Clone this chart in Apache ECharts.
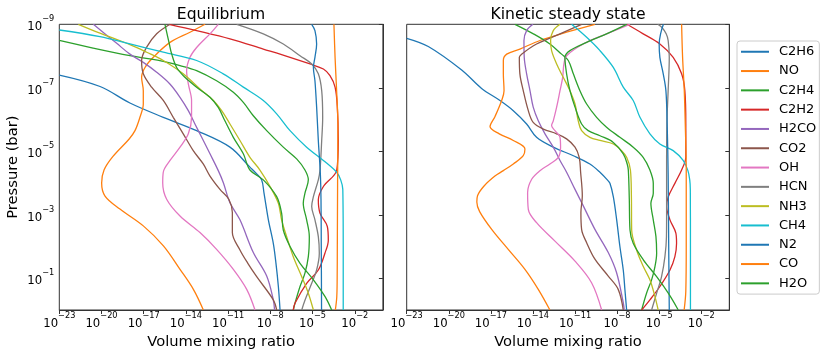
<!DOCTYPE html>
<html>
<head>
<meta charset="utf-8">
<script src="https://cdn.jsdelivr.net/npm/echarts@6/dist/echarts.min.js"></script>
<style>
  html, body { margin: 0; padding: 0; background: #fff; }
  #chart { width: 830px; height: 356px; }
</style>
</head>
<body>
<div id="chart"></div>
<script>
// species, in legend order
const speciesNames = ["C2H6", "NO", "C2H4", "C2H2", "H2CO", "CO2", "OH", "HCN", "NH3", "CH4", "N2", "CO", "H2O"];
const speciesColors = ["#1f77b4", "#ff7f0e", "#2ca02c", "#d62728", "#9467bd", "#8c564b", "#e377c2",
  "#7f7f7f", "#bcbd22", "#17becf", "#1f77b4", "#ff7f0e", "#2ca02c"];

// tick positions (log10 values)
const xTickExps = [-23, -20, -17, -14, -11, -8, -5, -2];
const yTickExps = [-9, -7, -5, -3, -1];

// profiles as [log10 pressure (bar), log10 volume mixing ratio]
// --- Equilibrium ---
const eqC2H6 = [[-7.4,-23],[-7.04,-20.1],[-6.52,-17.98],[-6.07,-15.61],[-5.65,-13.24],[-5.13,-10.87],[-4.5,-9.45],[-4.3,-9.0],[-4.1,-8.62],[-3.68,-8.45],[-2.84,-8.14],[-2.1,-7.79],[-1.47,-7.6],[-0.74,-7.43],[0,-7.31]];
const eqNO = [[-9,-12.64],[-8.75,-13.71],[-8.43,-15.13],[-7.96,-16.32],[-7.64,-16.91],[-7.33,-17.15],[-6.91,-17.03],[-6.49,-17.03],[-6.07,-17.27],[-5.65,-17.62],[-5.38,-18.05],[-4.83,-19.2],[-4.41,-19.82],[-4.0,-19.99],[-3.59,-19.75],[-3.18,-18.69],[-2.65,-17.03],[-2.02,-15.6],[-1.28,-14.42],[-0.65,-13.47],[0,-12.76]];
const eqC2H4 = [[-8.49,-23],[-8.25,-20.6],[-8.01,-17.98],[-7.91,-16.56],[-7.83,-15.61],[-7.7,-14.42],[-7.54,-13.24],[-7.22,-11.82],[-6.86,-10.63],[-6.54,-9.92],[-6.12,-9.21],[-5.65,-8.26],[-5.13,-7.08],[-4.76,-6.13],[-4.41,-5.54],[-4.1,-5.3],[-3.68,-5.54],[-3.36,-5.66],[-2.84,-5.42],[-2.31,-5.23],[-1.68,-5.3],[-1.16,-5.54],[-0.74,-5.89],[-0.21,-6.25],[0,-6.37]];
const eqC2H2 = [[-9,-15.2],[-8.8,-13.24],[-8.54,-10.87],[-8.22,-8.5],[-7.96,-6.6],[-7.75,-5.18],[-7.59,-4.23],[-7.38,-3.76],[-7.02,-3.4],[-6.39,-3.24],[-5.34,-3.17],[-4.41,-3.28],[-3.89,-4.23],[-3.47,-4.59],[-3.05,-4.47],[-2.63,-3.95],[-2.2,-3.88],[-1.79,-4.12],[-1.26,-4.59],[-0.84,-5.42],[-0.21,-6.25],[0,-6.37]];
const eqH2CO = [[-9,-20.58],[-8.4,-18.92],[-8.06,-17.98],[-7.8,-17.03],[-7.49,-16.08],[-7.12,-15.14],[-6.7,-14.42],[-6.28,-13.83],[-5.86,-13.36],[-5.44,-12.88],[-4.92,-12.29],[-4.39,-11.7],[-4.01,-11.34],[-3.38,-10.87],[-2.84,-10.16],[-1.81,-9.21],[-1.07,-8.26],[-0.32,-7.79],[0,-7.7]];
const eqCO2 = [[-9,-15.13],[-8.7,-16.08],[-8.28,-16.79],[-7.86,-17.15],[-7.44,-17.03],[-7.02,-16.44],[-6.6,-15.61],[-6.07,-14.9],[-5.55,-14.19],[-5.02,-13.48],[-4.6,-12.77],[-4.22,-12.29],[-3.8,-11.58],[-3.49,-10.95],[-3.07,-10.7],[-2.44,-10.7],[-1.89,-10.16],[-1.47,-9.6],[-1.05,-8.97],[-0.32,-7.79],[0,-7.55]];
const eqOH = [[-9,-11.7],[-8.7,-12.29],[-8.27,-13.24],[-7.96,-13.71],[-7.54,-13.95],[-7.12,-13.83],[-6.6,-13.6],[-6.07,-13.6],[-5.55,-13.83],[-5.13,-14.42],[-4.71,-15.13],[-4.34,-15.61],[-4.0,-15.65],[-3.49,-15.37],[-2.96,-14.42],[-2.44,-13.0],[-1.91,-11.82],[-1.28,-10.63],[-0.65,-9.68],[0,-9.09]];
const eqHCN = [[-9,-10.39],[-8.7,-8.5],[-8.38,-7.08],[-8.01,-5.89],[-7.75,-5.06],[-7.44,-4.59],[-6.91,-4.35],[-6.07,-4.28],[-5.34,-4.35],[-4.41,-4.47],[-4.1,-4.59],[-3.57,-4.94],[-3.26,-5.06],[-2.84,-4.83],[-2.31,-4.59],[-1.79,-4.52],[-1.26,-4.71],[-0.84,-5.06],[-0.31,-5.54],[0,-5.77]];
const eqNH3 = [[-9,-21.65],[-8.72,-20.11],[-8.36,-17.98],[-8.12,-16.79],[-7.86,-15.61],[-7.44,-14.19],[-6.96,-13.0],[-6.6,-12.05],[-6.28,-11.46],[-5.86,-10.87],[-5.34,-10.16],[-4.81,-9.45],[-4.41,-8.74],[-3.89,-8.02],[-3.36,-7.43],[-2.84,-7.2],[-2.31,-6.84],[-1.68,-6.37],[-1.05,-5.77],[-0.53,-5.3],[0,-4.94]];
const eqCH4 = [[-8.82,-23],[-8.61,-20.11],[-8.38,-17.98],[-8.12,-15.61],[-7.86,-13.24],[-7.44,-11.35],[-7.02,-9.92],[-6.6,-8.5],[-6.18,-7.55],[-5.65,-6.6],[-5.13,-5.42],[-4.71,-4.23],[-4.34,-3.29],[-4.1,-3.0],[-3.8,-2.85],[-2,-2.82],[0,-2.82]];
const eqN2 = [[-9,-5.06],[-8.8,-4.83],[-8.38,-4.71],[-7.96,-4.83],[-7.64,-4.94],[-7.22,-4.83],[-6.39,-4.71],[-5.34,-4.59],[-4.34,-4.45],[-3.5,-4.4],[-2,-4.38],[0,-4.36]];
const eqCO = [[-9,-3.48],[-7.96,-3.4],[-6.91,-3.29],[-5.86,-3.2],[-4,-3.22],[-2,-3.24],[-1,-3.25],[-0.4,-3.28],[0,-3.38]];
const eqH2O = [[-9,-15.49],[-8.38,-15.18],[-8.06,-15.01],[-7.64,-14.66],[-7.33,-14.07],[-7.02,-13.24],[-6.7,-12.29],[-6.38,-11.7],[-5.96,-11.23],[-5.44,-10.63],[-4.92,-9.92],[-4.41,-9.45],[-4.1,-8.5],[-3.57,-7.55],[-3.05,-7.2],[-2.52,-7.08],[-2.0,-6.6],[-1.47,-5.89],[-0.95,-4.94],[-0.42,-4.11],[0,-3.64]];

// --- Kinetic steady state ---
const kiC2H6 = [[-8.56,-23],[-8.3,-21.46],[-7.56,-19.08],[-6.98,-17.66],[-6.6,-16.35],[-6.28,-15.4],[-5.86,-14.45],[-5.44,-13.74],[-5.13,-12.55],[-4.86,-11.12],[-4.6,-9.94],[-4.34,-9.22],[-4.1,-8.7],[-3.99,-8.51],[-3.57,-8.27],[-2.84,-8.03],[-2.0,-7.8],[-1.26,-7.56],[-0.63,-7.44],[0,-7.32]];
const kiNO = [[-9,-9.58],[-8.75,-11.6],[-8.49,-13.5],[-8.22,-14.93],[-8.06,-15.87],[-7.86,-16.11],[-7.44,-16.11],[-6.91,-16.06],[-6.6,-16.23],[-6.09,-16.71],[-5.78,-17.06],[-5.55,-16.4],[-5.34,-15.4],[-5.07,-14.57],[-4.86,-14.69],[-4.6,-15.4],[-4.39,-16.11],[-4.22,-16.71],[-3.9,-17.5],[-3.6,-17.95],[-3.4,-18.0],[-3.1,-17.8],[-2.54,-16.94],[-1.91,-15.76],[-1.28,-14.57],[-0.65,-13.62],[0,-12.79]];
const kiC2H4 = [[-9,-15.28],[-8.7,-13.97],[-8.38,-12.79],[-8.06,-11.96],[-7.86,-11.48],[-7.44,-11.12],[-6.91,-10.65],[-6.49,-10.17],[-6.07,-9.46],[-5.76,-8.75],[-5.44,-7.8],[-5.13,-6.85],[-4.81,-6.14],[-4.41,-5.66],[-3.99,-5.42],[-3.68,-5.42],[-3.36,-5.59],[-2.84,-5.42],[-2.31,-5.23],[-1.79,-5.18],[-1.37,-5.3],[-0.95,-5.54],[-0.53,-5.9],[0,-6.25]];
const kiC2H2 = [[-9,-7.3],[-8.7,-6.14],[-8.38,-4.95],[-7.96,-4.0],[-7.44,-3.4],[-6.91,-3.17],[-5.86,-3.1],[-4.81,-3.1],[-4.41,-3.4],[-3.99,-3.88],[-3.57,-4.35],[-3.26,-4.47],[-2.84,-4.23],[-2.42,-3.81],[-2.1,-3.76],[-1.68,-3.88],[-1.26,-4.23],[-0.74,-4.95],[-0.32,-5.66],[0,-6.25]];
const kiH2CO = [[-9,-14.0],[-8.8,-14.45],[-8.49,-14.64],[-7.96,-14.62],[-7.44,-14.45],[-6.91,-14.21],[-6.39,-13.98],[-5.96,-13.62],[-5.55,-13.14],[-5.13,-12.55],[-4.71,-12.07],[-4.34,-11.6],[-3.8,-11.0],[-3.28,-10.41],[-2.54,-9.58],[-1.81,-8.63],[-1.18,-8.04],[-0.23,-7.56],[0,-7.49]];
const kiCO2 = [[-9,-10.53],[-8.7,-12.07],[-8.38,-13.74],[-8.06,-14.81],[-7.96,-14.97],[-7.44,-14.93],[-6.91,-14.69],[-6.28,-14.33],[-5.91,-13.98],[-5.7,-13.26],[-5.55,-12.31],[-5.39,-11.6],[-5.13,-11.0],[-4.81,-10.7],[-4.34,-10.6],[-3.59,-10.48],[-3.07,-10.58],[-2.54,-10.53],[-2.12,-10.17],[-1.6,-9.58],[-1.07,-8.63],[-0.65,-7.92],[0,-7.56]];
const kiOH = [[-9,-7.09],[-8.7,-8.75],[-8.38,-10.41],[-8.01,-11.6],[-7.75,-11.79],[-7.33,-11.88],[-6.91,-12.07],[-6.39,-12.31],[-5.96,-12.55],[-5.81,-12.67],[-5.65,-12.43],[-5.44,-12.07],[-5.13,-12.03],[-4.81,-12.19],[-4.6,-12.79],[-4.39,-13.5],[-4.12,-14.09],[-3.7,-14.38],[-3.17,-14.33],[-2.75,-13.74],[-2.17,-12.43],[-1.54,-11.0],[-0.86,-9.82],[0,-9.1]];
const kiHCN = [[-9,-5.1],[-8.9,-4.8],[-8.7,-4.5],[-8.49,-4.36],[-7.96,-4.28],[-6.91,-4.36],[-5.86,-4.45],[-4.41,-4.47],[-3.0,-4.47],[-2.31,-4.48],[-1.68,-4.59],[-1.05,-4.83],[-0.53,-5.18],[0,-5.54]];
const kiNH3 = [[-9,-12.07],[-8.8,-12.55],[-8.49,-12.74],[-8.17,-12.67],[-7.75,-12.31],[-7.33,-11.84],[-6.91,-11.36],[-6.49,-11.0],[-5.96,-10.77],[-5.65,-10.53],[-5.44,-9.94],[-5.34,-9.22],[-5.23,-8.27],[-5.02,-7.68],[-4.81,-7.32],[-4.41,-7.05],[-3.59,-6.98],[-2.52,-6.96],[-1.89,-6.61],[-1.37,-6.13],[-0.95,-5.66],[-0.42,-5.3],[0,-5.07]];
const kiCH4 = [[-9,-11.24],[-8.59,-10.17],[-8.17,-9.22],[-7.64,-8.27],[-7.02,-7.56],[-6.6,-6.85],[-6.07,-6.37],[-5.55,-5.66],[-5.23,-4.95],[-5.02,-4.0],[-4.71,-3.29],[-4.39,-2.95],[-4.1,-2.82],[-3.8,-2.78],[-2,-2.77],[0,-2.77]];
const kiN2 = [[-9,-4.7],[-8.7,-4.9],[-8.38,-5.0],[-7.96,-4.95],[-7.44,-4.71],[-6.91,-4.52],[-5.86,-4.43],[-4.29,-4.36],[-2,-4.32],[0,-4.28]];
const kiCO = [[-9,-3.4],[-7.96,-3.33],[-6.91,-3.21],[-5.86,-3.14],[-4.41,-3.07],[-2,-3.07],[-0.6,-3.1],[0,-3.22]];
const kiH2O = [[-9,-7.32],[-8.7,-8.75],[-8.43,-10.17],[-8.17,-11.36],[-7.96,-11.72],[-7.44,-11.6],[-6.91,-11.36],[-6.39,-11.0],[-5.86,-10.53],[-5.65,-10.06],[-5.49,-9.22],[-5.28,-8.27],[-4.92,-7.56],[-4.6,-7.28],[-4.41,-7.2],[-3.5,-7.13],[-2.52,-7.08],[-2.1,-6.85],[-1.58,-6.13],[-1.05,-5.18],[-0.53,-4.35],[0,-3.64]];

const eqProfiles = [eqC2H6, eqNO, eqC2H4, eqC2H2, eqH2CO, eqCO2, eqOH, eqHCN, eqNH3, eqCH4, eqN2, eqCO, eqH2O];
const kiProfiles = [kiC2H6, kiNO, kiC2H4, kiC2H2, kiH2CO, kiCO2, kiOH, kiHCN, kiNH3, kiCH4, kiN2, kiCO, kiH2O];

const FONT = "DejaVu Sans";
const chart = echarts.init(document.getElementById("chart"));

// 10^n label as rich text
const powLabel = (v) => "{b|10}{s|" + (v < 0 ? "\u2212" : "") + Math.abs(v) + "}";
const powRich = {
  b: { fontSize: 11.7, fontFamily: FONT, color: "#000", lineHeight: 18, verticalAlign: "bottom" },
  s: { fontSize: 8.2, fontFamily: FONT, color: "#000", lineHeight: 12, verticalAlign: "top" },
};

const grids = [
  { left: 59.3, top: 24.3, width: 323.6, height: 285.7 },
  { left: 406.7, top: 24.3, width: 322.6, height: 285.7 },
];

const makeX = (i) => ({
  gridIndex: i,
  type: "value",
  min: -23,
  max: 0,
  axisLine: { show: true, lineStyle: { color: "#333", width: 1 } },
  splitLine: { show: false },
  axisTick: { show: true, customValues: xTickExps, length: 4, lineStyle: { color: "#333" } },
  axisLabel: { customValues: xTickExps, formatter: powLabel, rich: powRich, margin: 2 },
  name: "Volume mixing ratio",
  nameLocation: "middle",
  nameGap: 19,
  nameTextStyle: { fontSize: 14.7, fontFamily: FONT, color: "#000" },
});

const makeY = (i) => ({
  gridIndex: i,
  type: "value",
  min: -9,
  max: 0,
  inverse: true,
  axisLine: { show: true, lineStyle: { color: "#333", width: 1 } },
  splitLine: { show: false },
  axisTick: { show: true, customValues: yTickExps, length: 4, lineStyle: { color: "#333" } },
  axisLabel: { show: i === 0, customValues: yTickExps, formatter: powLabel, rich: powRich, margin: 5 },
  name: i === 0 ? "Pressure (bar)" : "",
  nameLocation: "middle",
  nameGap: 39,
  nameRotate: 90,
  nameTextStyle: { fontSize: 14.7, fontFamily: FONT, color: "#000" },
});

const series = [];
[eqProfiles, kiProfiles].forEach((profiles, panel) => {
  profiles.forEach((prof, k) => {
    series.push({
      name: speciesNames[k],
      type: "line",
      xAxisIndex: panel,
      yAxisIndex: panel,
      data: prof.map(([lp, lx]) => [lx, lp]),
      smooth: 0.35,
      showSymbol: false,
      symbol: "none",
      clip: true,
      lineStyle: { width: 1.3, color: speciesColors[k] },
      itemStyle: { color: speciesColors[k] },
      z: 2 + k,
    });
  });
});

const option = {
  animation: false,
  backgroundColor: "#fff",
  grid: grids.map((g) => ({ ...g, show: true, borderColor: "#333", borderWidth: 1, backgroundColor: "transparent" })),
  xAxis: [makeX(0), makeX(1)],
  yAxis: [makeY(0), makeY(1)],
  legend: {
    data: speciesNames,
    orient: "vertical",
    left: 737,
    top: 41,
    icon: "rect",
    itemWidth: 28,
    itemHeight: 2,
    itemGap: 3.8,
    padding: [3, 3, 3, 4],
    backgroundColor: "rgba(255,255,255,0.8)",
    borderColor: "#ccc",
    borderWidth: 1,
    borderRadius: 3,
    textStyle: { fontSize: 13, lineHeight: 15.5, fontFamily: FONT, color: "#000", padding: [0, 0, 0, 5] },
  },
  graphic: [
    { type: "text", x: 221, y: 15, style: { text: "Equilibrium", font: "15.6px 'DejaVu Sans'", fill: "#000",
      textAlign: "center", textVerticalAlign: "middle", align: "center", verticalAlign: "middle" } },
    { type: "text", x: 568, y: 15, style: { text: "Kinetic steady state", font: "15.6px 'DejaVu Sans'", fill: "#000",
      textAlign: "center", textVerticalAlign: "middle", align: "center", verticalAlign: "middle" } },
  ],
  series,
};

chart.setOption(option);
</script>
</body>
</html>
